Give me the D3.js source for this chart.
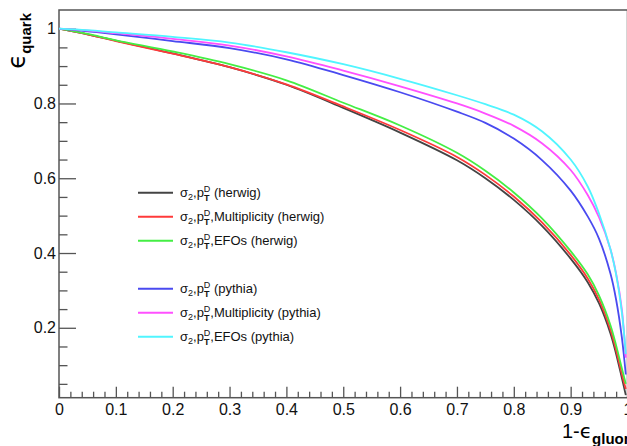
<!DOCTYPE html>
<html>
<head>
<meta charset="utf-8">
<script src="https://cdn.jsdelivr.net/npm/d3@7"></script>
<style>
  body { margin: 0; background: #fff; }
  svg { display: block; font-family: "Liberation Sans", Arial, Helvetica, sans-serif; }
  .axis path.domain { display: none; }
  .axis line { stroke: #555; stroke-width: 1.3; }
  .axis text { fill: #111; font-size: 16px; font-family: "Liberation Sans", Arial, sans-serif; }
</style>
</head>
<body>
<div id="chart"></div>
<script>
// 1 - gluon efficiency (x) grid shared by all curves
var effGluon = [0, 0.05, 0.1, 0.2, 0.3, 0.4, 0.5, 0.6, 0.7, 0.75, 0.8, 0.85, 0.9, 0.93, 0.95, 0.97, 0.98, 0.99, 0.997];

// quark efficiency per tagger
var herwigBase  = [1, 0.985, 0.968, 0.934, 0.897, 0.85, 0.788, 0.722, 0.648, 0.6, 0.542, 0.472, 0.385, 0.322, 0.265, 0.185, 0.13, 0.066, 0.02];
var herwigMult  = [1, 0.985, 0.967, 0.933, 0.897, 0.851, 0.792, 0.729, 0.657, 0.609, 0.551, 0.481, 0.395, 0.332, 0.275, 0.195, 0.14, 0.077, 0.036];
var herwigEFO   = [1, 0.986, 0.969, 0.939, 0.905, 0.862, 0.802, 0.741, 0.668, 0.62, 0.562, 0.492, 0.405, 0.343, 0.286, 0.207, 0.153, 0.092, 0.05];
var pythiaBase  = [1, 0.993, 0.985, 0.967, 0.948, 0.918, 0.876, 0.83, 0.778, 0.748, 0.706, 0.648, 0.567, 0.498, 0.438, 0.345, 0.275, 0.175, 0.075];
var pythiaMult  = [1, 0.995, 0.988, 0.973, 0.955, 0.926, 0.888, 0.846, 0.8, 0.773, 0.74, 0.693, 0.622, 0.555, 0.495, 0.41, 0.345, 0.25, 0.12];
var pythiaEFO   = [1, 0.996, 0.99, 0.978, 0.963, 0.937, 0.905, 0.866, 0.822, 0.798, 0.77, 0.725, 0.65, 0.578, 0.505, 0.41, 0.342, 0.242, 0.13];

var seriesNames = ["(herwig)", ",Multiplicity (herwig)", ",EFOs (herwig)", "(pythia)", ",Multiplicity (pythia)", ",EFOs (pythia)"];
var seriesColors = ["#444444", "#ff3a3a", "#44ee44", "#4a4af0", "#ff50ff", "#50f5ff"];
var seriesValues = [herwigBase, herwigMult, herwigEFO, pythiaBase, pythiaMult, pythiaEFO];

var xTicks = [0, 0.1, 0.2, 0.3, 0.4, 0.5, 0.6, 0.7, 0.8, 0.9, 1];
var xTickLabels = ["0", "0.1", "0.2", "0.3", "0.4", "0.5", "0.6", "0.7", "0.8", "0.9", "1"];
var yTicks = [0.2, 0.4, 0.6, 0.8, 1];
var yTickLabels = ["0.2", "0.4", "0.6", "0.8", "1"];

var W = 627, H = 446;
var svg = d3.select('#chart').append('svg').attr('width', W).attr('height', H);

var x = d3.scaleLinear().domain([0, 1]).range([59, 627.5]);
var y = d3.scaleLinear().domain([0.013, 1.05]).range([397.7, 10]);

// minor tick values
var xMinor = d3.range(0, 51).map(function(i) { return i / 50; }).filter(function(v, i) { return i % 5 != 0; });
var yMinor = d3.range(1, 21).map(function(i) { return i / 20; }).filter(function(v, i) { return (i + 1) % 4 != 0; });

// frame
svg.append('rect')
    .attr('x', x(0)).attr('y', y(1.05))
    .attr('width', x(1) - x(0)).attr('height', y(0.013) - y(1.05))
    .attr('fill', 'none').attr('stroke', '#555').attr('stroke-width', 1.5);

// x axis
svg.append('g').attr('class', 'axis').attr('transform', 'translate(0,' + y(0.013) + ')')
    .call(d3.axisBottom(x).tickValues(xMinor).tickSize(-6).tickFormat(''));
svg.append('g').attr('class', 'axis').attr('transform', 'translate(0,' + y(0.013) + ')')
    .call(d3.axisBottom(x).tickValues(xTicks).tickSize(-11).tickPadding(6)
        .tickFormat(function(d, i) { return xTickLabels[i]; }));

// y axis
svg.append('g').attr('class', 'axis').attr('transform', 'translate(' + x(0) + ',0)')
    .call(d3.axisLeft(y).tickValues(yMinor).tickSize(-8.5).tickFormat(''));
svg.append('g').attr('class', 'axis').attr('transform', 'translate(' + x(0) + ',0)')
    .call(d3.axisLeft(y).tickValues(yTicks).tickSize(-17).tickPadding(3)
        .tickFormat(function(d, i) { return yTickLabels[i]; }));

// axis titles
var yTitle = svg.append('text')
    .attr('transform', 'translate(25,13) rotate(-90)')
    .attr('text-anchor', 'end')
    .style('font-size', '24px');
yTitle.append('tspan').text('\u03F5').style('font-family', 'DejaVu Sans');
yTitle.append('tspan').text('quark').attr('dy', 6).style('font-size', '15px').style('font-weight', 'bold');

// x title runs off the right edge, as in the original
var xTitle = svg.append('text')
    .attr('x', 562).attr('y', 438)
    .style('font-size', '20px');
xTitle.append('tspan').text('1-');
xTitle.append('tspan').text('\u03F5').style('font-family', 'DejaVu Sans');
xTitle.append('tspan').text('gluon').attr('dy', 6).style('font-size', '15px').style('font-weight', 'bold');

// curves
var line = d3.line()
    .x(function(d) { return x(d[0]); })
    .y(function(d) { return y(d[1]); })
    .curve(d3.curveCatmullRom.alpha(0.5));

var plot = svg.append('g').attr('class', 'curves');
seriesValues.forEach(function(vals, k) {
    var pts = effGluon.map(function(g, i) { return [g, vals[i]]; });
    plot.append('path')
        .datum(pts)
        .attr('d', line)
        .attr('fill', 'none')
        .attr('stroke', seriesColors[k])
        .attr('stroke-width', 1.8);
});

// legend
var legendRows = [192.7, 216.7, 240.7, 288.7, 312.7, 336.7];
var legend = svg.append('g').attr('class', 'legend');
seriesNames.forEach(function(name, k) {
    var ly = legendRows[k];
    legend.append('line')
        .attr('x1', 138).attr('x2', 173).attr('y1', ly).attr('y2', ly)
        .attr('stroke', seriesColors[k]).attr('stroke-width', 2);
    var t = legend.append('text').attr('x', 180).attr('y', ly + 4.5).style('font-size', '13px').attr('fill', '#111');
    t.append('tspan').text('\u03C3');
    t.append('tspan').text('2').style('font-size', '9px').attr('dy', 3);
    t.append('tspan').text(',p').attr('dy', -3);
    t.append('tspan').text('T').style('font-size', '9px').style('font-weight', 'bold').attr('dy', 4);
    t.append('tspan').text('D').style('font-size', '9px').attr('dx', -5.6).attr('dy', -9);
    t.append('tspan').text(name.charAt(0) == ',' ? name : ' ' + name).attr('dy', 5);
});
</script>
</body>
</html>
